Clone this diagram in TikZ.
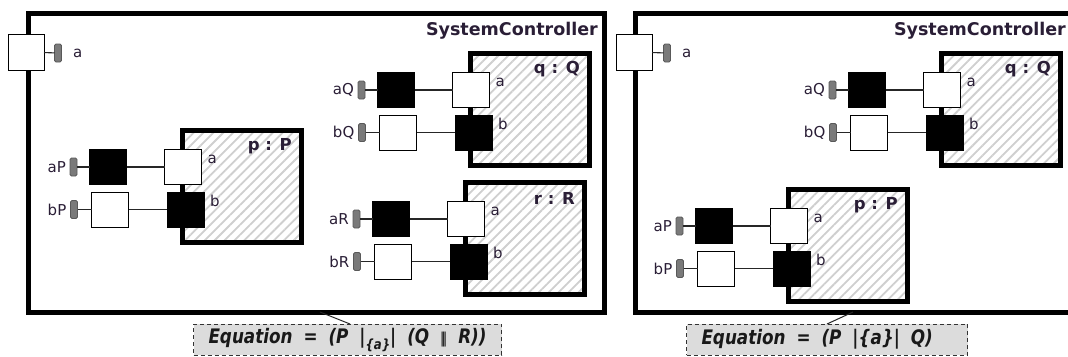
\documentclass[tikz,border=0pt]{standalone}
\usepackage{fontspec}
\setmainfont{DejaVu Sans}
\usetikzlibrary{patterns.meta,calc}
\definecolor{txt}{HTML}{2A1E36}
\definecolor{eqfill}{HTML}{DCDCDC}
\definecolor{portgrey}{HTML}{7A7A7A}
\newcommand\eqfont{\fontsize{20}{20}\selectfont\bfseries\itshape\spaceskip=13pt plus 1pt\relax}
\newcommand\eqtext[1]{\scalebox{0.84}[1]{#1}}
\newcommand\tribar{{\fontsize{15}{15}\selectfont\mdseries|\kern-.22em|\kern-.22em|}}
\newcommand\mycomp[6]{%
  \node[compbox] (#1box) at (#2+59.5,#3+56) {};
  \node[ctitle, anchor=east] (#1title) at ($(#1box.north east)+(-9,16)$) {#4};
  \node[wport] (#1ia) at (#2+1,#3+37) {};
  \node[bport] (#1ib) at (#2+3.5,#3+79.5) {};
  \node[bport] (#1oa) at (#2-74,#3+37) {};
  \node[wport] (#1ob) at (#2-72,#3+79.5) {};
  \node[gport] (#1ga) at (#2-108.5,#3+37) {};
  \node[gport] (#1gb) at (#2-108,#3+79.5) {};
  \draw[wire] (#1ga) -- (#1oa);
  \draw[wire] (#1oa) -- (#1ia);
  \draw[wire] (#1gb) -- (#1ob);
  \draw[wire] (#1ob) -- (#1ib);
  \node[plabel, anchor=east] (#1la) at ($(#1ga.west)+(-4,0)$) {#5};
  \node[plabel, anchor=east] (#1lb) at ($(#1gb.west)+(-4,0)$) {#6};
  \node[plabel, anchor=west] (#1lia) at ($(#1ia.east)+(6,-8)$) {a};
  \node[plabel, anchor=west] (#1lib) at ($(#1ib.east)+(6,-9)$) {b};
}
\begin{document}
\begin{tikzpicture}[x=1pt,y=-1pt,
  panel/.style={draw=black, line width=5pt, inner sep=0pt, outer sep=0pt, minimum height=299pt},
  compbox/.style={draw=black, line width=5pt, pattern={Lines[angle=45,distance=7pt,line width=1.8pt]}, pattern color=gray!38, minimum width=119pt, minimum height=112pt, inner sep=0pt, outer sep=0pt},
  wport/.style={draw=black, line width=1pt, fill=white, minimum width=37pt, minimum height=35pt, inner sep=0pt, outer sep=0pt},
  bport/.style={wport, fill=black},
  gport/.style={draw=black!65, fill=portgrey, rounded corners=1.5pt, minimum width=7pt, minimum height=18pt, inner sep=0pt, outer sep=0pt, line width=0.8pt},
  wire/.style={line width=1.1pt, draw=black!85},
  plabel/.style={font=\fontsize{15}{15}\selectfont, text=txt, inner sep=0pt},
  ctitle/.style={font=\fontsize{16.5}{16.5}\selectfont\bfseries, text=txt, inner sep=0pt},
  sctitle/.style={font=\fontsize{17.5}{17.5}\selectfont\bfseries, text=txt, inner sep=0pt},
  eqbox/.style={draw=black!80, dash pattern=on 4pt off 3pt, line width=1pt, fill=eqfill, inner xsep=15pt, inner ysep=0pt, minimum height=31pt, font=\eqfont, text=black!90}
]
\clip (0,0) rectangle (1068,356);
\fill[white] (0,0) rectangle (1068,356);

% ---------- left panel ----------
\node[panel, minimum width=576pt] (leftpanel) at (316,162.5) {};
\node[sctitle, anchor=east] (lsc) at (598,31) {SystemController};
\node[wport, minimum width=36pt, minimum height=36pt] (lpa) at (26,52) {};
\node[gport] (lga) at (58,53) {};
\draw[wire] (lpa) -- (lga);
\node[plabel, anchor=west] (lla) at (73,53) {a};

\mycomp{q}{470}{53}{q : Q}{aQ}{bQ}
\mycomp{p}{182}{130}{p : P}{aP}{bP}
\mycomp{r}{465}{182}{r : R}{aR}{bR}

\node[eqbox, anchor=west] (eqL) at (193,339.5) {\eqtext{Equation = (P |\raisebox{-6pt}{\fontsize{14}{14}\selectfont\{a\}}| (Q \tribar\ R))}};
\coordinate (lA) at (320,312);
\coordinate (lB) at (350,324);
\draw[line width=1pt, black!85] (lA) -- (lB);

% ---------- right panel ----------
\node[panel, minimum width=440pt] (rightpanel) at (855,162.5) {};
\node[sctitle, anchor=east] (rsc) at (1066,31) {SystemController};
\node[wport, minimum width=36pt, minimum height=36pt] (rpa) at (634,52) {};
\node[gport] (rga) at (667,53) {};
\draw[wire] (rpa) -- (rga);
\node[plabel, anchor=west] (rla) at (682,53) {a};

\mycomp{rq}{941}{53}{q : Q}{aQ}{bQ}
\mycomp{rp}{788}{189}{p : P}{aP}{bP}

\node[eqbox, anchor=west] (eqR) at (686,339.5) {\makebox[251pt][l]{\eqtext{Equation = (P |\{a\}| Q)}}};
\coordinate (rA) at (853,312);
\coordinate (rB) at (827,324);
\draw[line width=1pt, black!85] (rA) -- (rB);
\end{tikzpicture}
\end{document}
